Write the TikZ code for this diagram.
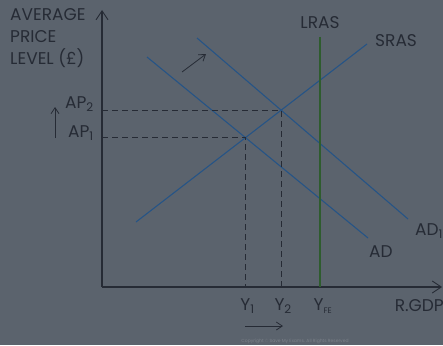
\documentclass[tikz,border=0pt]{standalone}
\usepackage{fontspec}
\setmainfont{Poppins}
\usetikzlibrary{arrows.meta, intersections, calc}

\definecolor{bgcol}{RGB}{91,99,109}
\definecolor{inkcol}{RGB}{38,43,53}
\definecolor{curvecol}{RGB}{38,84,134}
\definecolor{lrascol}{RGB}{46,92,46}

\tikzset{
  axis/.style={inkcol, line width=1.1pt, -{Straight Barb[length=9pt, width=12pt, line width=0.9pt]}},
  curve/.style={curvecol, line width=1.1pt},
  guide/.style={inkcol, line width=0.8pt, dash pattern=on 6pt off 4pt},
  shiftarrow/.style={inkcol, line width=0.8pt, -{Straight Barb[length=6pt, width=8pt]}},
  lbl/.style={inner sep=0pt, text=inkcol},
}

\begin{document}
\begin{tikzpicture}[x=1pt, y=-1pt, font=\fontsize{17}{21}\selectfont]
    \fill[bgcol] (0,0) rectangle (443,345);
    \useasboundingbox (0,0) rectangle (443,345);

    % axes
    \coordinate (o) at (102,287);
    \draw[axis] (o) -- (102,10);
    \draw[axis] (o) -- (442,287);

    % curves
    \draw[curve, name path=ad]  (147,57) -- (368,238);
    \draw[curve, name path=ad1] (197,38) -- (408,219);
    \draw[curve, name path=sras] (136,222) -- (367,44);
    \draw[lrascol, line width=1.1pt] (320,37) -- (320,287);

    % equilibrium points
    \path[name intersections={of=ad and sras, by=e1}];
    \path[name intersections={of=ad1 and sras, by=e2}];
    \draw[guide] (e1 -| o) -- (e1) -- (e1 |- o);
    \draw[guide] (e2 -| o) -- (e2) -- (e2 |- o);

    % labels
    \node[lbl, align=left, anchor=north west, font=\fontsize{17}{22}\selectfont] (ylab) at (10,8) {AVERAGE\\PRICE\\LEVEL (£)};
    \node[lbl, anchor=east] (ap2) at (94,104) {AP\textsubscript{2}};
    \node[lbl, anchor=east] (ap1) at (94,133) {AP\textsubscript{1}};
    \node[lbl] (y1) at ($(e1 |- o)+(2,19)$) {Y\textsubscript{1}};
    \node[lbl] (y2) at ($(e2 |- o)+(2,19)$) {Y\textsubscript{2}};
    \node[lbl] (yfe) at (323,306) {Y\textsubscript{\fontsize{8}{9}\selectfont FE}};
    \node[lbl, anchor=east] (xlab) at (444,306) {R.GDP};
    \node[lbl] (lras) at (320,23) {LRAS};
    \node[lbl, anchor=west] (sraslab) at (375,41) {SRAS};
    \node[lbl, anchor=west] (adlab) at (369,252) {AD};
    \node[lbl, anchor=west] (ad1lab) at (415,231) {AD\textsubscript{1}};

    % shifts
    \coordinate (pa) at (55,138);
    \coordinate (pb) at (55,107);
    \draw[shiftarrow] (pa) -- (pb);
    \coordinate (ya) at (245,326);
    \coordinate (yb) at (283,326);
    \draw[shiftarrow] (ya) -- (yb);
    \coordinate (da) at (182,72);
    \coordinate (db) at (206,54);
    \draw[shiftarrow] (da) -- (db);

    \node[text=bgcol!80!white, font=\fontsize{4.5}{5}\selectfont] (copy) at (295,341) {Copyright © Save My Exams. All Rights Reserved};
\end{tikzpicture}
\end{document}
